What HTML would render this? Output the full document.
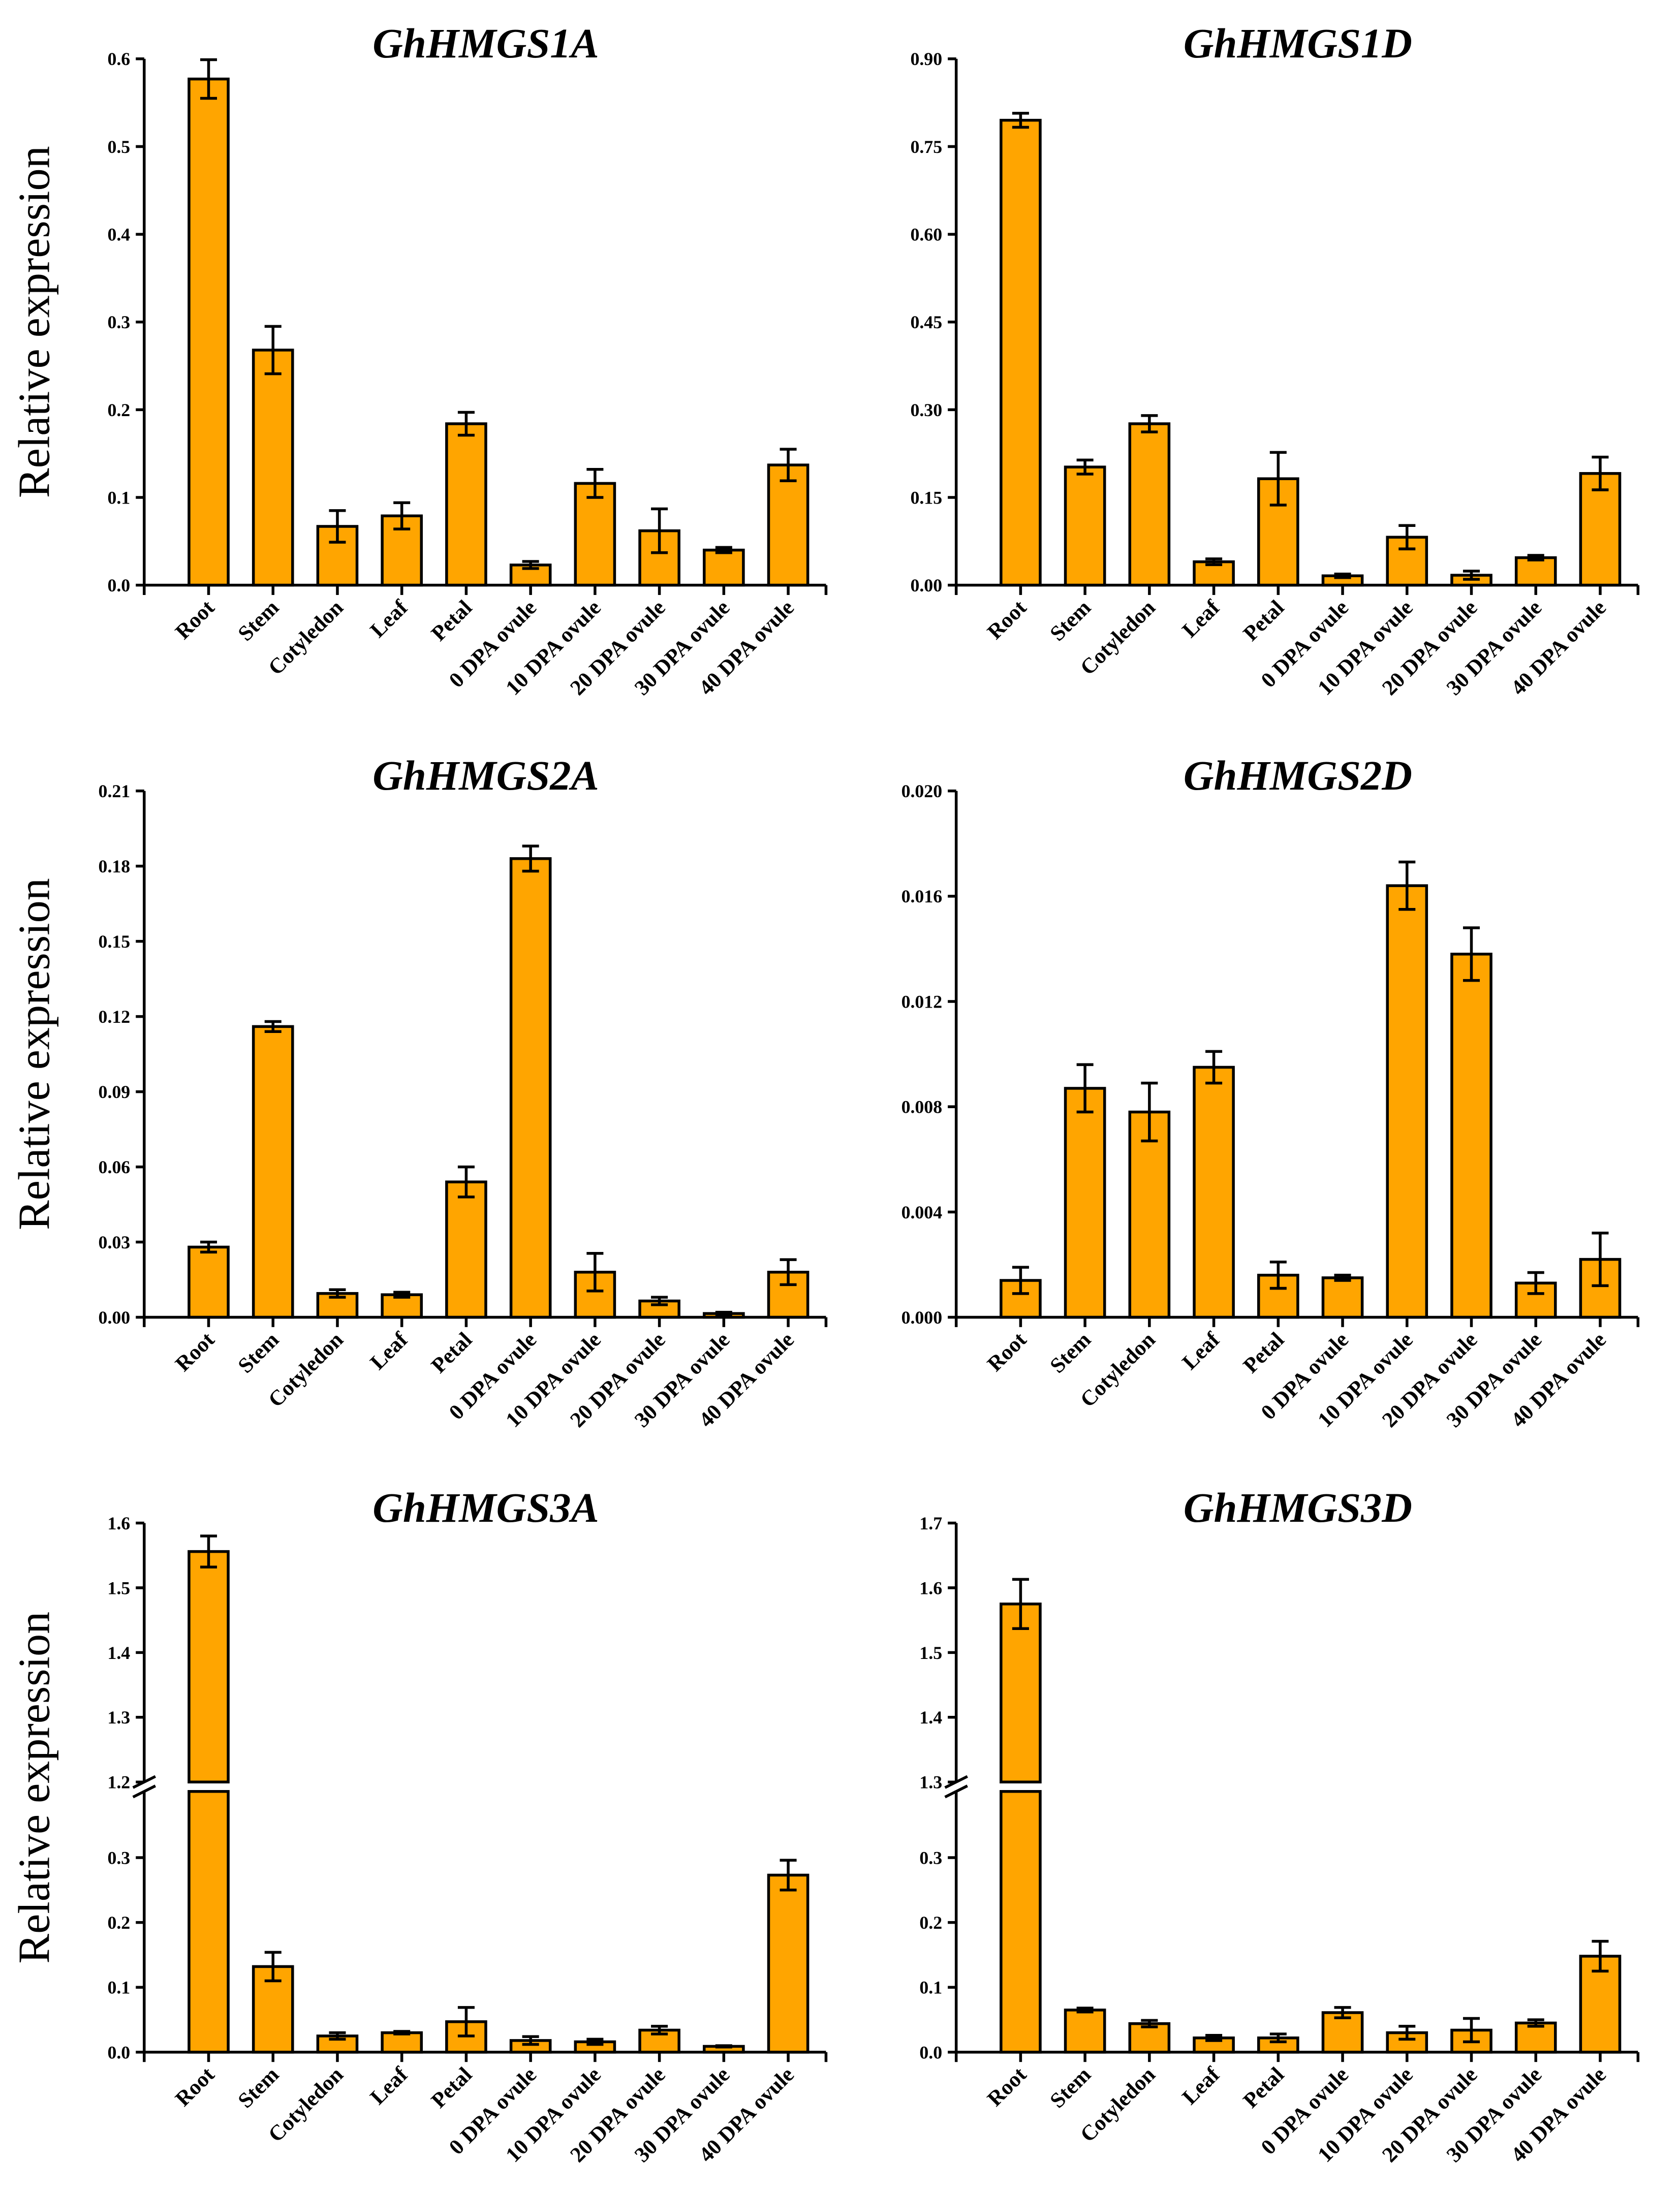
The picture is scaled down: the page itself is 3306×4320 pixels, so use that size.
<!DOCTYPE html>
<html><head><meta charset="utf-8"><style>
html,body{margin:0;padding:0;background:#fff}
svg{display:block}
</style></head><body>
<svg id="fig" xmlns="http://www.w3.org/2000/svg" width="3306" height="4320" viewBox="0 0 1200 1568"></svg>
<script>
const categories=["Root","Stem","Cotyledon","Leaf","Petal","0 DPA ovule","10 DPA ovule","20 DPA ovule","30 DPA ovule","40 DPA ovule"];
const v1A=[0.577,0.268,0.067,0.079,0.184,0.023,0.116,0.062,0.040,0.137];
const e1A=[0.022,0.027,0.018,0.015,0.013,0.004,0.016,0.025,0.003,0.018];
const v1D=[0.795,0.202,0.276,0.040,0.182,0.016,0.082,0.017,0.047,0.191];
const e1D=[0.012,0.012,0.014,0.005,0.045,0.003,0.020,0.007,0.004,0.028];
const v2A=[0.028,0.116,0.0095,0.009,0.054,0.183,0.018,0.0065,0.0015,0.018];
const e2A=[0.002,0.002,0.0015,0.001,0.006,0.005,0.0075,0.0015,0.0005,0.005];
const v2D=[0.0014,0.0087,0.0078,0.0095,0.0016,0.0015,0.0164,0.0138,0.0013,0.0022];
const e2D=[0.0005,0.0009,0.0011,0.0006,0.0005,0.0001,0.0009,0.0010,0.0004,0.0010];
const v3A=[1.556,0.132,0.025,0.030,0.047,0.018,0.016,0.034,0.009,0.273];
const e3A=[0.024,0.022,0.005,0.002,0.022,0.006,0.004,0.006,0.001,0.023];
const v3D=[1.575,0.065,0.044,0.022,0.022,0.061,0.030,0.034,0.045,0.148];
const e3D=[0.038,0.003,0.005,0.004,0.006,0.008,0.010,0.018,0.005,0.023];
const ticks1A=["0.0","0.1","0.2","0.3","0.4","0.5","0.6"];
const ticks1D=["0.00","0.15","0.30","0.45","0.60","0.75","0.90"];
const ticks2A=["0.00","0.03","0.06","0.09","0.12","0.15","0.18","0.21"];
const ticks2D=["0.000","0.004","0.008","0.012","0.016","0.020"];
const ticks3ALow=["0.0","0.1","0.2","0.3"];
const ticks3AHigh=["1.2","1.3","1.4","1.5","1.6"];
const ticks3DLow=["0.0","0.1","0.2","0.3"];
const ticks3DHigh=["1.3","1.4","1.5","1.6","1.7"];

const NS="http://www.w3.org/2000/svg";
const svg=document.getElementById('fig');
function mk(tag,attrs,parent,text){const el=document.createElementNS(NS,tag);for(const k in attrs)el.setAttribute(k,attrs[k]);if(text!==undefined)el.textContent=text;(parent||svg).appendChild(el);return el;}

function panel(o){
  const g=mk('g',{});
  
  
  const ax=o.ax, bot=o.bot, top=o.top, right=ax+487, step=46, bw=28;
  const xc=i=>ax+46+i*step;
  let yS, brk=null;
  if(!o.high){
    const max=parseFloat(o.ticks[o.ticks.length-1]);
    yS=v=>bot-(v/max)*(bot-top);
  } else {
    const lowMax=parseFloat(o.low[o.low.length-1]);
    const hMin=parseFloat(o.high[0]), hMax=parseFloat(o.high[o.high.length-1]);
    const lowTopPx=bot-139, brkHigh=top+185;
    const lowPer=(bot-lowTopPx)/lowMax, highPer=(brkHigh-top)/(hMax-hMin);
    yS=v=>v<=0.4?bot-v*lowPer:brkHigh-(v-hMin)*highPer;
    brk={hi:brkHigh, lowPx:bot-0.402*lowPer};
    brk.lo=brk.lowPx;
  }
  const t=mk('text',{x:ax+244,y:top-1,'text-anchor':'middle','font-family':'Liberation Serif, serif','font-weight':'bold','font-style':'italic','font-size':30},g,o.title);
  
  
  if(o.ylab){
    const cy=(top+bot)/2;
    const yl=mk('text',{x:0,y:0,transform:`translate(35,${cy}) rotate(-90)`,'text-anchor':'middle','font-family':'Liberation Serif, serif','font-size':32},g,'Relative expression');
    
    
  }
  const vals=o.vals, errs=o.errs;
  vals.forEach((v,i)=>{
    const x=xc(i)-bw/2;
    if(brk && v>0.4){
      const b1=mk('rect',{x:x,y:brk.lo,width:bw,height:bot-brk.lo,fill:'#FFA500',stroke:'#000','stroke-width':2},g);
      
      
      const b2=mk('rect',{x:x,y:yS(v),width:bw,height:brk.hi-yS(v),fill:'#FFA500',stroke:'#000','stroke-width':2},g);
      
      
    } else {
      const b=mk('rect',{x:x,y:yS(v),width:bw,height:bot-yS(v),fill:'#FFA500',stroke:'#000','stroke-width':2},g);
      
      
    }
    const y1=yS(v+errs[i]), y2=yS(Math.max(0,v-errs[i])), c=xc(i);
    const eb=mk('path',{d:`M${c},${y1}V${y2}M${c-6},${y1}H${c+6}M${c-6},${y2}H${c+6}`,stroke:'#000','stroke-width':2,fill:'none'},g);
    
    
    const lb=mk('text',{x:0,y:0,transform:`translate(${c+5},${bot+17}) rotate(-45)`,'text-anchor':'end','font-family':'Liberation Serif, serif','font-weight':'bold','font-size':15.5},g,categories[i]);
    
    
    mk('line',{x1:c,y1:bot,x2:c,y2:bot+7,stroke:'#000','stroke-width':2},g);
  });
  const xa=mk('path',{d:`M${ax-1},${bot}H${right}M${ax},${bot}v7M${right},${bot}v7`,stroke:'#000','stroke-width':2,fill:'none'},g);
  
  
  const ya=mk('path',{d:brk?`M${ax},${bot}V${brk.lowPx}M${ax},${brk.hi}V${top}`:`M${ax},${bot+1}V${top}`,stroke:'#000','stroke-width':2,fill:'none'},g);
  
  
  const tickSet=brk?o.low.concat(o.high):o.ticks;
  tickSet.forEach(s=>{
    const y=yS(parseFloat(s));
    mk('line',{x1:ax-6,y1:y,x2:ax,y2:y,stroke:'#000','stroke-width':2},g);
    const tl=mk('text',{x:ax-10,y:y+4.5,'text-anchor':'end','font-family':'Liberation Serif, serif','font-weight':'bold','font-size':13},g,s);
    
    
  });
  if(brk){
    const bm=mk('path',{d:`M${ax-8},${brk.hi+4}L${ax+8},${brk.hi-4}M${ax-8},${brk.lowPx+4}L${ax+8},${brk.lowPx-4}`,stroke:'#000','stroke-width':2,fill:'none'},g);
    
    
  }
}
panel({name:'chart-ghhmgs1a',title:'GhHMGS1A',ax:103,top:42,bot:418,vals:v1A,errs:e1A,ticks:ticks1A,ylab:true});
panel({name:'chart-ghhmgs1d',title:'GhHMGS1D',ax:683,top:42,bot:418,vals:v1D,errs:e1D,ticks:ticks1D});
panel({name:'chart-ghhmgs2a',title:'GhHMGS2A',ax:103,top:565,bot:941,vals:v2A,errs:e2A,ticks:ticks2A,ylab:true});
panel({name:'chart-ghhmgs2d',title:'GhHMGS2D',ax:683,top:565,bot:941,vals:v2D,errs:e2D,ticks:ticks2D});
panel({name:'chart-ghhmgs3a',title:'GhHMGS3A',ax:103,top:1088,bot:1466,vals:v3A,errs:e3A,low:ticks3ALow,high:ticks3AHigh,ylab:true});
panel({name:'chart-ghhmgs3d',title:'GhHMGS3D',ax:683,top:1088,bot:1466,vals:v3D,errs:e3D,low:ticks3DLow,high:ticks3DHigh});
</script>
</body></html>
